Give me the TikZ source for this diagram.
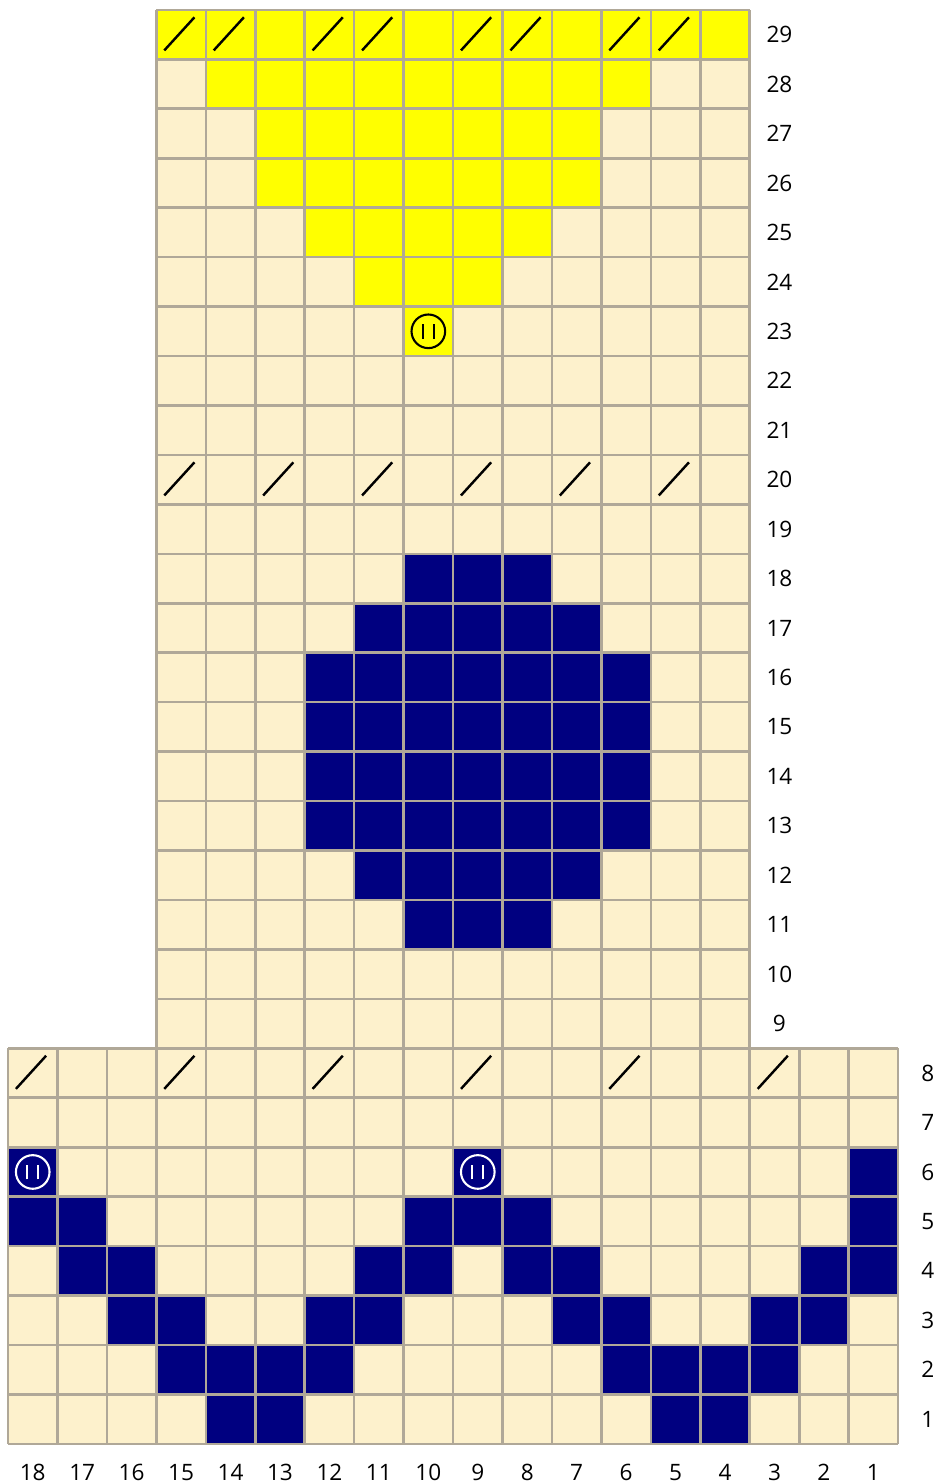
\documentclass[tikz,border=0pt]{standalone}
\usepackage{fontspec}
\setmainfont{Open Sans}
\usetikzlibrary{positioning}
\usepackage{xcolor}
\definecolor{cream}{RGB}{253,241,204}
\definecolor{navy}{RGB}{0,0,128}
\definecolor{chartyellow}{RGB}{255,255,0}
\definecolor{gridgray}{RGB}{176,168,152}
\tikzset{
    navycell/.style={
        fill=navy
    },
    yellowcell/.style={
        fill=chartyellow
    },
    gridline/.style={
        draw=gridgray,
        line width=1.5pt
    },
    slash/.style={
        black,
        line width=1.4pt
    },
    rowlabel/.style={
        font=\fontsize{13}{15}\selectfont,
        inner sep=0pt
    },
    bobble/.pic={
        \draw[line width=1.2pt] (0,0) circle (0.34);
        \draw[line width=1.3pt] (-0.11,-0.15) -- (-0.11,0.15);
        \draw[line width=1.3pt] (0.11,-0.15) -- (0.11,0.15);
    }
}

\begin{document}
\begin{tikzpicture}[x=1cm,y=1cm]
    \useasboundingbox (-0.162,-0.81) rectangle (18.83,29.2);

    % Background
    \fill[cream] (0,0) rectangle (18,8);
    \fill[cream] (3,8) rectangle (15,29);

    % Yellow rows
    \foreach \r/\cols in {29/{15,...,4}, 28/{14,...,6}, 27/{13,...,7}, 26/{13,...,7},
                          25/{12,...,8}, 24/{11,...,9}, 23/{10}}
        \foreach \c in \cols
            \fill[yellowcell] ({18-\c},{\r-1}) rectangle ++(1,1);

    % Navy rows
    \foreach \r/\cols in {18/{10,9,8}, 17/{11,...,7}, 16/{12,...,6}, 15/{12,...,6},
                          14/{12,...,6}, 13/{12,...,6}, 12/{11,...,7}, 11/{10,9,8},
                          6/{18,9,1}, 5/{18,17,10,9,8,1}, 4/{17,16,11,10,8,7,2,1},
                          3/{16,15,12,11,7,6,3,2}, 2/{15,14,13,12,6,5,4,3}, 1/{14,13,5,4}}
        \foreach \c in \cols
            \fill[navycell] ({18-\c},{\r-1}) rectangle ++(1,1);

    % Grid
    \draw[gridline] (0,0) grid (18,8);
    \draw[gridline] (3,8) grid (15,29);

    % Slashes
    \foreach \r/\cols in {29/{15,14,12,11,9,8,6,5}, 20/{15,13,11,9,7,5}, 8/{18,15,12,9,6,3}}
        \foreach \c in \cols
            \draw[slash] ({18-\c+0.16},{\r-1+0.18}) -- ({18-\c+0.77},{\r-1+0.85});

    % Bobbles
    \pic[black] at (8.5,22.5) {bobble};
    \pic[white] at (0.5,5.5) {bobble};
    \pic[white] at (9.5,5.5) {bobble};

    % Row numbers
    \foreach \r in {9,...,29}
        \node[rowlabel] (row\r) at (15.6,{\r-0.5}) {\r};
    \foreach \r in {1,...,8}
        \node[rowlabel] (row\r) at (18.6,{\r-0.5}) {\r};

    % Column numbers
    \foreach \c in {1,...,18}
        \node[rowlabel] (col\c) at ({18-\c+0.5},-0.57) {\c};
\end{tikzpicture}
\end{document}
